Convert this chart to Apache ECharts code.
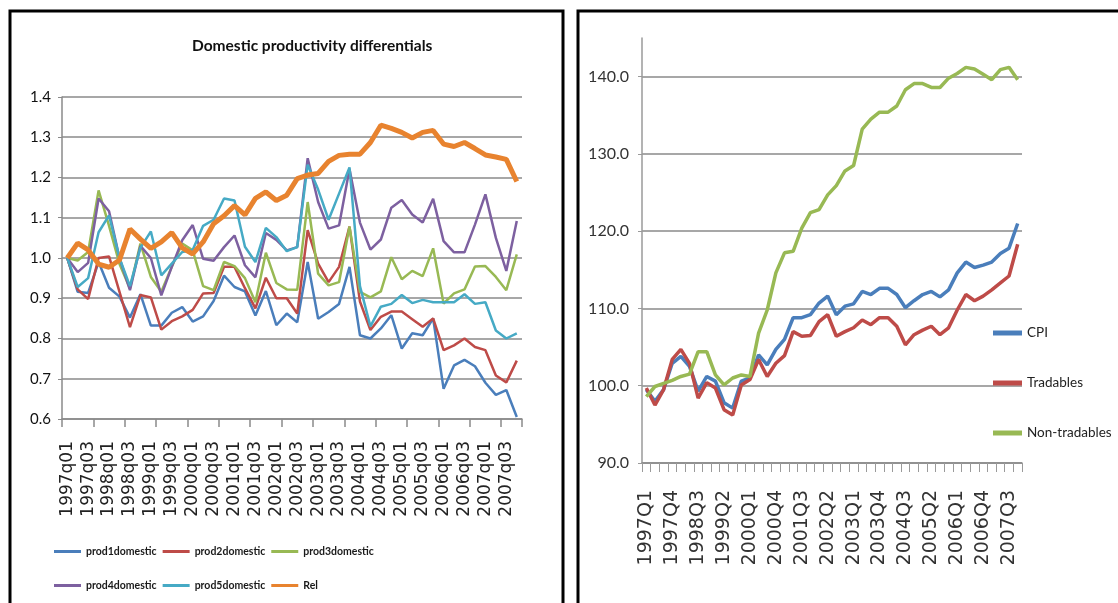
<!DOCTYPE html>
<html><head><meta charset="utf-8">
<script src="https://cdn.jsdelivr.net/npm/echarts@6/dist/echarts.min.js"></script>
<style>html,body{margin:0;padding:0;background:#fff}#c{width:1118px;height:603px}</style>
</head><body><div id="c"></div>
<script>
// ---------- Left chart data ----------
const leftTitle = 'Domestic productivity differentials';
const leftCategories = [
 '1997q01','1997q02','1997q03','1997q04','1998q01','1998q02','1998q03','1998q04',
 '1999q01','1999q02','1999q03','1999q04','2000q01','2000q02','2000q03','2000q04',
 '2001q01','2001q02','2001q03','2001q04','2002q01','2002q02','2002q03','2002q04',
 '2003q01','2003q02','2003q03','2003q04','2004q01','2004q02','2004q03','2004q04',
 '2005q01','2005q02','2005q03','2005q04','2006q01','2006q02','2006q03','2006q04',
 '2007q01','2007q02','2007q03','2007q04'];
const prod1domestic = [1.0,0.916,0.913,0.99,0.926,0.904,0.852,0.91,0.832,0.832,0.864,0.878,0.842,0.855,0.893,0.956,0.928,0.917,0.857,0.918,0.833,0.862,0.84,0.99,0.849,0.866,0.886,0.978,0.808,0.80,0.825,0.858,0.775,0.813,0.808,0.85,0.675,0.733,0.747,0.731,0.69,0.66,0.672,0.605];
const prod2domestic = [1.0,0.922,0.898,1.0,1.004,0.916,0.828,0.908,0.902,0.822,0.843,0.855,0.871,0.912,0.913,0.978,0.978,0.925,0.875,0.951,0.9,0.9,0.862,1.069,0.986,0.94,0.978,1.078,0.892,0.821,0.854,0.867,0.867,0.848,0.829,0.85,0.771,0.783,0.80,0.779,0.771,0.708,0.691,0.745];
const prod3domestic = [1.0,0.994,1.015,1.168,1.08,0.985,0.924,1.036,0.953,0.916,0.978,1.036,1.019,0.93,0.92,0.99,0.98,0.95,0.89,1.013,0.938,0.922,0.921,1.139,0.961,0.932,0.94,1.078,0.916,0.902,0.917,1.002,0.947,0.968,0.955,1.024,0.887,0.912,0.922,0.979,0.98,0.953,0.92,1.009];
const prod4domestic = [1.0,0.965,0.988,1.148,1.116,1.0,0.92,1.03,1.0,0.907,0.978,1.044,1.082,0.998,0.993,1.027,1.056,0.982,0.952,1.062,1.045,1.019,1.027,1.248,1.139,1.073,1.081,1.221,1.088,1.021,1.046,1.125,1.144,1.108,1.088,1.147,1.042,1.014,1.014,1.083,1.158,1.05,0.968,1.092];
const prod5domestic = [1.0,0.928,0.95,1.064,1.106,1.0,0.93,1.025,1.066,0.957,0.986,1.015,1.02,1.08,1.095,1.148,1.143,1.028,0.99,1.075,1.052,1.017,1.027,1.232,1.17,1.095,1.16,1.225,0.93,0.83,0.879,0.886,0.908,0.888,0.896,0.89,0.89,0.89,0.91,0.886,0.89,0.82,0.80,0.813];
const Rel = [1.00,1.037,1.02,0.985,0.977,0.995,1.072,1.047,1.024,1.04,1.063,1.025,1.01,1.04,1.085,1.105,1.13,1.107,1.148,1.164,1.143,1.156,1.197,1.206,1.21,1.24,1.255,1.258,1.258,1.287,1.33,1.322,1.312,1.298,1.312,1.317,1.283,1.277,1.287,1.272,1.256,1.251,1.245,1.19];
const leftYTicks = {min: 0.6, max: 1.4, interval: 0.1};

// ---------- Right chart data ----------
const rightCategories = [
 '1997Q1','1997Q2','1997Q3','1997Q4','1998Q1','1998Q2','1998Q3','1998Q4',
 '1999Q1','1999Q2','1999Q3','1999Q4','2000Q1','2000Q2','2000Q3','2000Q4',
 '2001Q1','2001Q2','2001Q3','2001Q4','2002Q1','2002Q2','2002Q3','2002Q4',
 '2003Q1','2003Q2','2003Q3','2003Q4','2004Q1','2004Q2','2004Q3','2004Q4',
 '2005Q1','2005Q2','2005Q3','2005Q4','2006Q1','2006Q2','2006Q3','2006Q4',
 '2007Q1','2007Q2','2007Q3','2007Q4'];
const CPI = [99.5,98.0,99.5,102.9,103.8,102.5,99.3,101.2,100.6,97.8,97.1,100.6,101.0,104.0,102.7,104.7,106.0,108.8,108.8,109.2,110.7,111.6,109.2,110.3,110.6,112.2,111.8,112.6,112.6,111.8,110.1,111.0,111.8,112.2,111.5,112.4,114.6,116.0,115.3,115.6,116.0,117.1,117.8,121.0];
const Tradables = [99.7,97.5,99.5,103.4,104.7,102.9,98.4,100.4,99.7,96.9,96.2,100.1,100.8,103.4,101.2,102.9,103.9,107.0,106.4,106.5,108.3,109.2,106.4,107.0,107.5,108.5,107.9,108.8,108.8,107.7,105.3,106.6,107.2,107.7,106.6,107.5,109.8,111.8,111.0,111.6,112.4,113.3,114.2,118.3];
const NonTradables = [98.6,99.9,100.3,100.7,101.2,101.5,104.4,104.4,101.4,100.1,101.0,101.4,101.2,106.8,109.8,114.6,117.2,117.4,120.4,122.4,122.8,124.7,125.9,127.8,128.5,133.2,134.5,135.4,135.4,136.2,138.3,139.1,139.1,138.6,138.6,139.8,140.4,141.2,141.0,140.3,139.6,140.9,141.2,139.6];
const rightYTicks = {min: 90, max: 145, interval: 10};

// ---------- Styling ----------
const NARROW = "Lato,'Liberation Sans',sans-serif";
const WIDE = "'DejaVu Sans',sans-serif";
const GRID_COLOR = '#8a8a8a';
const C = {blue:'#4A7EBB', red:'#BE4B48', green:'#98B954', purple:'#7D60A0', teal:'#46AAC5', orange:'#E8832F'};

const chart = echarts.init(document.getElementById('c'), null, {renderer:'canvas'});

function lineSeries(name, data, color, width, idx, z){
  return {name, type:'line', data, xAxisIndex:idx, yAxisIndex:idx, symbol:'none',
    smooth:false, color, lineStyle:{color, width}, z: z||2, emphasis:{disabled:true}};
}

const legendText = {fontFamily:NARROW, fontWeight:'bold', fontSize:10.5, color:'#1a1a1a'};

const option = {
  animation:false,
  backgroundColor:'#ffffff',
  title:{text:leftTitle, left:187, top:33,
    textStyle:{fontFamily:NARROW, fontWeight:'bold', fontSize:15.5, color:'#111'}},
  grid:[
    {left:62, top:97, width:460, height:322},
    {left:642, top:38, width:380, height:425}
  ],
  xAxis:[
    {type:'category', gridIndex:0, data:leftCategories, boundaryGap:true,
     axisLine:{lineStyle:{color:GRID_COLOR, width:1.5}},
     axisTick:{show:true, interval:2, length:8, lineStyle:{color:GRID_COLOR, width:1.5}},
     axisLabel:{interval:1, rotate:90, margin:22, fontFamily:WIDE, fontSize:17, color:'#222'}},
    {type:'category', gridIndex:1, data:rightCategories, boundaryGap:true,
     axisLine:{lineStyle:{color:GRID_COLOR, width:1.5}},
     axisTick:{show:true, interval:0, length:9, lineStyle:{color:'#9a9a9a', width:1}},
     axisLabel:{interval:2, rotate:90, margin:27, fontFamily:WIDE, fontSize:19, color:'#333'}}
  ],
  yAxis:[
    {type:'value', gridIndex:0, min:leftYTicks.min, max:leftYTicks.max, interval:leftYTicks.interval,
     axisLine:{show:true, lineStyle:{color:GRID_COLOR, width:1.5}},
     axisTick:{show:true, length:4, lineStyle:{color:GRID_COLOR}},
     splitLine:{show:true, lineStyle:{color:GRID_COLOR, width:1.5}},
     axisLabel:{margin:11, fontFamily:NARROW, fontSize:15, color:'#111',
       formatter:v=>v.toFixed(1)}},
    {type:'value', gridIndex:1, min:rightYTicks.min, max:rightYTicks.max, interval:rightYTicks.interval,
     axisLine:{show:true, lineStyle:{color:'#9a9a9a', width:1.5}},
     axisTick:{show:true, length:4, lineStyle:{color:'#9a9a9a'}},
     splitLine:{show:true, showMaxLine:false, lineStyle:{color:GRID_COLOR, width:1.5}},
     axisLabel:{margin:13, fontFamily:NARROW, fontSize:16, color:'#333', showMaxLabel:false,
       formatter:v=>v.toFixed(1)}}
  ],
  legend:[
    {data:['prod1domestic','prod2domestic','prod3domestic'], left:54, top:546, padding:0,
     icon:'rect', itemWidth:27, itemHeight:3, itemGap:6, selectedMode:false, textStyle:legendText},
    {data:['prod4domestic','prod5domestic','Rel'], left:54, top:580, padding:0,
     icon:'rect', itemWidth:27, itemHeight:3, itemGap:6, selectedMode:false, textStyle:legendText},
    {data:['CPI','Tradables','Non-tradables'], orient:'vertical', left:993, top:323, padding:0,
     icon:'rect', itemWidth:29, itemHeight:5, itemGap:30, selectedMode:false,
     textStyle:{fontFamily:NARROW, fontSize:13.5, lineHeight:20, color:'#222'}}
  ],
  graphic:[
    {type:'rect', shape:{x:10, y:11, width:553, height:620}, style:{fill:'none', stroke:'#000', lineWidth:3}, z:10},
    {type:'rect', shape:{x:578, y:11, width:600, height:620}, style:{fill:'none', stroke:'#000', lineWidth:3}, z:10}
  ],
  series:[
    lineSeries('prod1domestic', prod1domestic, C.blue, 2.5, 0),
    lineSeries('prod2domestic', prod2domestic, C.red, 2.5, 0),
    lineSeries('prod3domestic', prod3domestic, C.green, 2.5, 0),
    lineSeries('prod4domestic', prod4domestic, C.purple, 2.5, 0),
    lineSeries('prod5domestic', prod5domestic, C.teal, 2.5, 0),
    lineSeries('Rel', Rel, C.orange, 5, 0, 3),
    lineSeries('CPI', CPI, C.blue, 3.5, 1),
    lineSeries('Tradables', Tradables, C.red, 3.5, 1),
    lineSeries('Non-tradables', NonTradables, C.green, 3.5, 1)
  ]
};
chart.setOption(option);
</script>
</body></html>
